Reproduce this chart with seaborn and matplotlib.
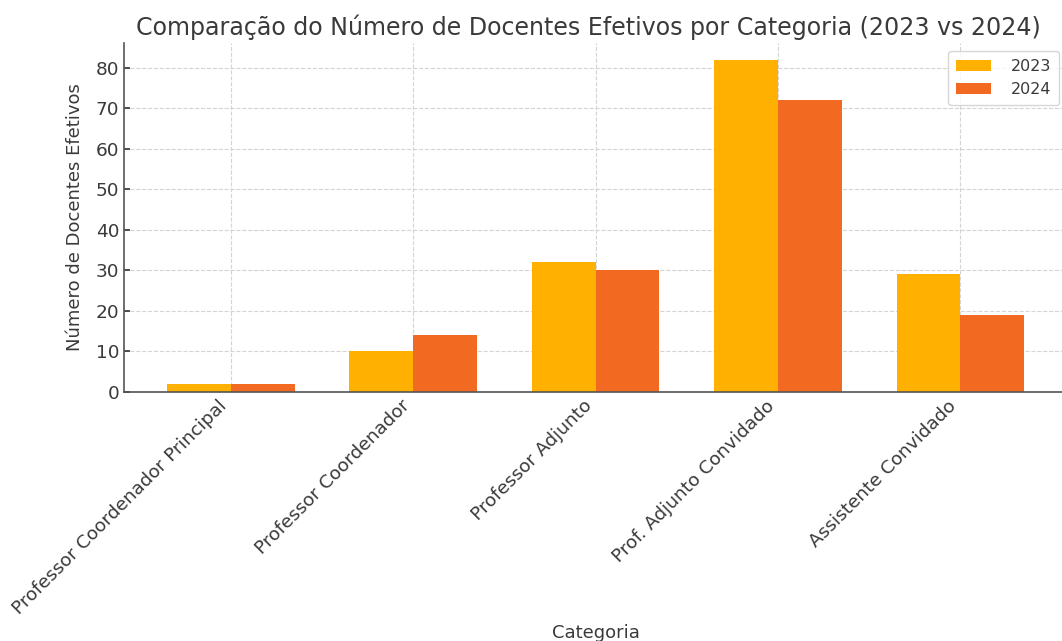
import pandas as pd
import matplotlib.pyplot as plt
import seaborn as sns

# Data
categorias = ['Professor Coordenador Principal', 'Professor Coordenador',
              'Professor Adjunto', 'Prof. Adjunto Convidado', 'Assistente Convidado']
docentes_2023 = [2, 10, 32, 82, 29]
docentes_2024 = [2, 14, 30, 72, 19]
anos = ['2023', '2024']
cores = ['#FFB000', '#F26A21']

df = pd.DataFrame({
    'Categoria': categorias * 2,
    'Docentes': docentes_2023 + docentes_2024,
    'Ano': [anos[0]] * len(categorias) + [anos[1]] * len(categorias),
})

sns.set_theme(style='ticks')
plt.rcParams['font.family'] = ['DejaVu Sans']
plt.rcParams['text.color'] = '#3a3a3a'
plt.rcParams['axes.labelcolor'] = '#3a3a3a'

fig = plt.figure(figsize=(10.62, 6.41), dpi=100)
# axes runs a little past the right edge, like the cropped original
ax = fig.add_axes([0.1168, 0.3885, 0.888, 0.5445])

sns.barplot(data=df, x='Categoria', y='Docentes', hue='Ano',
            palette=cores, width=0.7, gap=0, saturation=1,
            edgecolor='none', ax=ax)

ax.set_axisbelow(True)
ax.grid(True, linestyle='--', color='#d4d4d4', linewidth=0.8)
ax.set_title('Comparação do Número de Docentes Efetivos por Categoria (2023 vs 2024)',
             fontsize=17.1, color='#3a3a3a', x=0.492)
ax.set_xlabel('Categoria', fontsize=13)
ax.set_ylabel('Número de Docentes Efetivos', fontsize=13, labelpad=8)
ax.tick_params(axis='both', labelsize=13.3, colors='#3a3a3a', direction='in', length=4)
plt.setp(ax.get_xticklabels(), rotation=45, ha='right')
ax.set_ylim(0, 86.1)
ax.set_xlim(-0.585, 4.585)
for side in ['top', 'right']:
    ax.spines[side].set_visible(False)
for side in ['left', 'bottom']:
    ax.spines[side].set_color('#555555')
    ax.spines[side].set_linewidth(1.2)

ax.legend(title=None, loc='upper right', fontsize=11.5, frameon=True,
          handlelength=2.2, handletextpad=1.2, borderpad=0.5)

fig.savefig('out.png', dpi=100)
